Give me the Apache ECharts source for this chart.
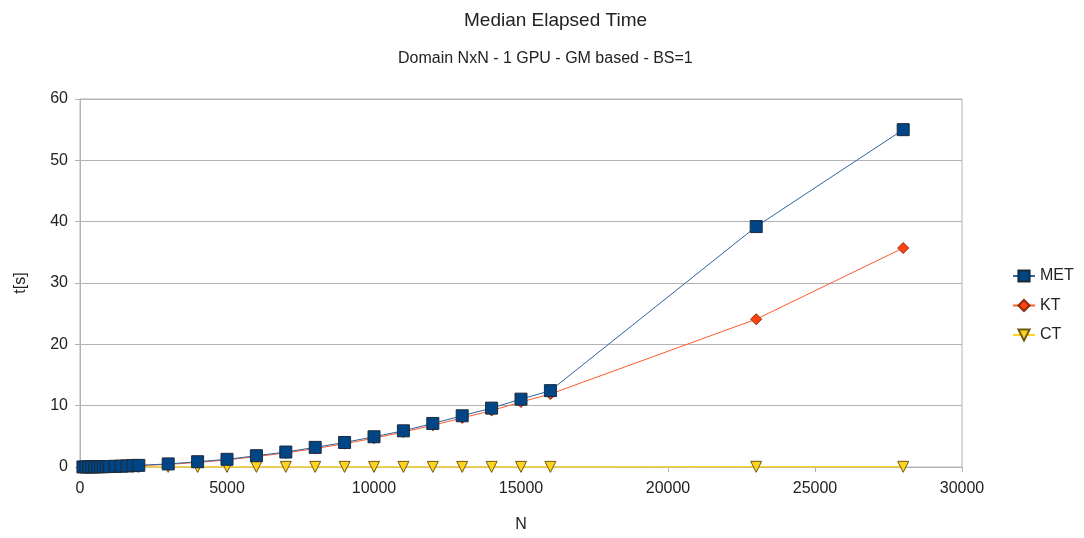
<!DOCTYPE html>
<html>
<head>
<meta charset="utf-8">
<title>Median Elapsed Time</title>
<script src="https://cdn.jsdelivr.net/npm/echarts@6/dist/echarts.min.js"></script>
<style>
  html, body { margin: 0; padding: 0; background: #fff; }
  #chart { width: 1084px; height: 538px; }
</style>
</head>
<body>
<div id="chart"></div>
<script>
// Problem size N (domain NxN)
const nValues = [100, 200, 300, 400, 500, 600, 700, 800, 900, 1000, 1200, 1400, 1600, 1800, 2000,
                 3000, 4000, 5000, 6000, 7000, 8000, 9000, 10000, 11000, 12000, 13000, 14000, 15000, 16000,
                 23000, 28000];

// Median elapsed times in seconds
const metTimes = [0.01, 0.01, 0.02, 0.02, 0.03, 0.04, 0.05, 0.06, 0.07, 0.08, 0.11, 0.14, 0.18, 0.22, 0.27,
                  0.5, 0.86, 1.25, 1.84, 2.44, 3.2, 4.0, 4.93, 5.9, 7.1, 8.35, 9.6, 11.06, 12.45,
                  39.2, 55.0];
const ktTimes  = [0.01, 0.01, 0.01, 0.02, 0.02, 0.03, 0.04, 0.05, 0.06, 0.07, 0.09, 0.12, 0.15, 0.19, 0.23,
                  0.42, 0.75, 1.15, 1.7, 2.3, 3.0, 3.8, 4.7, 5.7, 6.8, 8.0, 9.2, 10.6, 11.9,
                  24.1, 35.7];
const ctTimes  = [0.01, 0.01, 0.01, 0.01, 0.01, 0.01, 0.01, 0.01, 0.01, 0.01, 0.01, 0.01, 0.01, 0.01, 0.01,
                  0.02, 0.02, 0.02, 0.02, 0.02, 0.02, 0.02, 0.02, 0.02, 0.02, 0.02, 0.02, 0.02, 0.02,
                  0.03, 0.03];

const seriesNames = ['MET', 'KT', 'CT'];
const xTicks = { min: 0, max: 30000, interval: 5000 };
const yTicks = { min: 0, max: 60, interval: 10 };

const pairs = vals => nValues.map((n, i) => [n, vals[i]]);

const FONT = 'Liberation Sans, Arial, sans-serif';
const gridColor = '#b3b3b3';
const textColor = '#222';

const chart = echarts.init(document.getElementById('chart'), null, { renderer: 'canvas' });

chart.setOption({
  backgroundColor: '#ffffff',
  animation: false,
  textStyle: { fontFamily: FONT },
  title: [
    {
      text: 'Median Elapsed Time',
      left: 459, top: 6,
      textStyle: { fontFamily: FONT, fontSize: 19, fontWeight: 'normal', color: textColor }
    },
    {
      text: 'Domain NxN - 1 GPU - GM based - BS=1',
      left: 393, top: 46,
      textStyle: { fontFamily: FONT, fontSize: 16, fontWeight: 'normal', color: textColor }
    }
  ],
  legend: {
    orient: 'vertical',
    left: 1007, top: 263,
    itemWidth: 22, itemHeight: 14, itemGap: 13.5,
    textStyle: { fontFamily: FONT, fontSize: 16, color: textColor },
    data: seriesNames
  },
  grid: {
    left: 80, right: 122, top: 99, bottom: 69,
    show: true, borderColor: gridColor, borderWidth: 1, backgroundColor: 'transparent'
  },
  xAxis: {
    type: 'value',
    min: xTicks.min, max: xTicks.max, interval: xTicks.interval,
    name: 'N', nameLocation: 'middle', nameGap: 50,
    nameTextStyle: { fontFamily: FONT, fontSize: 16, color: textColor },
    axisLine: { show: true, lineStyle: { color: gridColor } },
    axisTick: { show: true, length: 5, lineStyle: { color: gridColor } },
    axisLabel: { fontFamily: FONT, fontSize: 16, color: textColor, margin: 14,
                 formatter: v => String(v) },
    splitLine: { show: false }
  },
  yAxis: {
    type: 'value',
    min: yTicks.min, max: yTicks.max, interval: yTicks.interval,
    name: 't[s]', nameLocation: 'middle', nameGap: 51,
    nameTextStyle: { fontFamily: FONT, fontSize: 16, color: textColor },
    axisLine: { show: true, lineStyle: { color: gridColor } },
    axisTick: { show: true, length: 5, lineStyle: { color: gridColor } },
    axisLabel: { fontFamily: FONT, fontSize: 16, color: textColor, margin: 12 },
    splitLine: { show: true, lineStyle: { color: gridColor, width: 1 } }
  },
  series: [
    {
      name: 'MET', type: 'line', z: 5,
      data: pairs(metTimes),
      symbol: 'rect', symbolSize: 12,
      lineStyle: { color: '#2f62a0', width: 1 },
      itemStyle: { color: '#004586', borderColor: '#1c2a3a', borderWidth: 1 }
    },
    {
      name: 'KT', type: 'line', z: 4,
      data: pairs(ktTimes),
      symbol: 'diamond', symbolSize: 11,
      lineStyle: { color: '#ff5a2a', width: 1 },
      itemStyle: { color: '#ff420e', borderColor: '#8a2a10', borderWidth: 1 }
    },
    {
      name: 'CT', type: 'line', z: 3,
      data: pairs(ctTimes),
      symbol: 'triangle', symbolRotate: 180, symbolSize: 11,
      lineStyle: { color: '#ffd320', width: 1.5 },
      itemStyle: { color: '#ffd320', borderColor: '#6b5a10', borderWidth: 1 }
    }
  ]
});
</script>
</body>
</html>
